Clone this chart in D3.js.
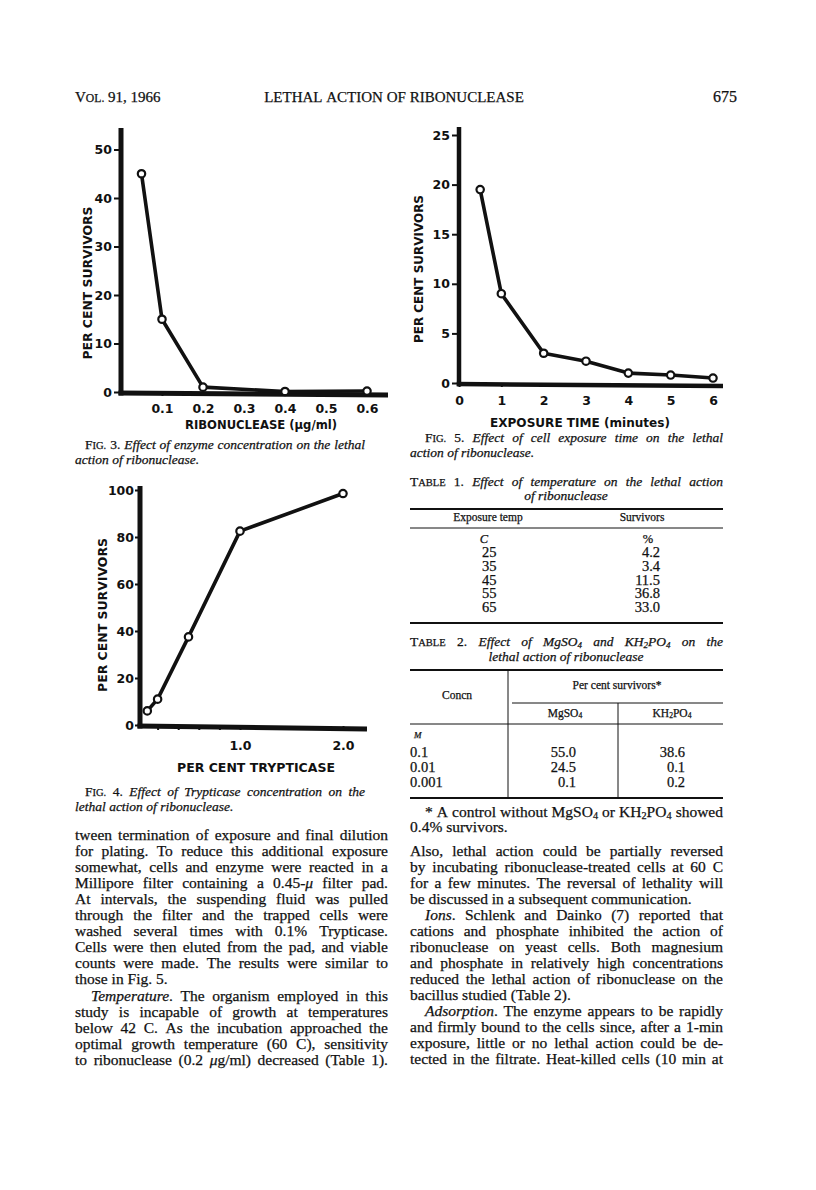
<!DOCTYPE html>
<html><head><meta charset="utf-8">
<script src="https://cdn.jsdelivr.net/npm/d3@7"></script>
<style>body{margin:0;background:#fff} svg{display:block}</style>
</head><body>
<svg id="page" width="816" height="1190"></svg>
<script>
// ---------------- DATA ----------------
const fig3Conc = [0.05, 0.1, 0.2, 0.4, 0.6];
const fig3Surv = [45, 15, 1, 0.1, 0.2];
const fig3YTicks = [0, 10, 20, 30, 40, 50];
const fig3XTicks = [0.1, 0.2, 0.3, 0.4, 0.5, 0.6];
const fig3XLabels = ["0.1", "0.2", "0.3", "0.4", "0.5", "0.6"];

const fig4Tryp = [0.1, 0.2, 0.5, 1.0, 2.0];
const fig4Surv = [6, 11, 37.5, 82.5, 98.5];
const fig4YTicks = [0, 20, 40, 60, 80, 100];
const fig4XTicks = [0.2, 0.4, 0.6, 0.8, 1.0, 2.0];
const fig4XLabels = ["", "", "", "", "1.0", "2.0"];

const fig5Time = [0.5, 1, 2, 3, 4, 5, 6];
const fig5Surv = [19.5, 9, 3, 2.2, 1, 0.8, 0.5];
const fig5YTicks = [0, 5, 10, 15, 20, 25];
const fig5XTicks = [0, 1, 2, 3, 4, 5, 6];
const fig5XLabels = ["0", "1", "2", "3", "4", "5", "6"];

const table1Temp = ["25", "35", "45", "55", "65"];
const table1Surv = ["4.2", "3.4", "11.5", "36.8", "33.0"];
const table2Conc = ["0.1", "0.01", "0.001"];
const table2Mg = ["55.0", "24.5", "0.1"];
const table2KH = ["38.6", "0.1", "0.2"];

// ---------------- LAYOUT ----------------
const svg = d3.select("#page");
const SERIF = "'Liberation Serif','Times New Roman',serif";
const SANS = "'DejaVu Sans','Liberation Sans',sans-serif";
const INK = "#111";

function plot(c) {
  const g = svg.append("g");
  const x = d3.scaleLinear().domain(c.xDomain).range(c.xRange);
  const y = d3.scaleLinear().domain(c.yDomain).range(c.yRange);
  const yAx = g.append("g").attr("transform", `translate(${c.axisX},0)`)
    .call(d3.axisLeft(y).tickValues(c.yTicks).tickSize(c.yTick).tickPadding(c.yPad)
      .tickSizeOuter(0).tickFormat(d3.format("d")));
  const xAx = g.append("g").attr("transform", `translate(0,${c.baseY})`)
    .call(d3.axisBottom(x).tickValues(c.xTicks).tickSize(c.xTick).tickSizeOuter(0)
      .tickFormat((d, i) => c.xLabels[i]));
  [yAx, xAx].forEach(a => {
    a.select(".domain").remove();
    a.selectAll("line").attr("stroke", INK).attr("stroke-width", 2);
    a.selectAll("text").attr("font-family", SANS).attr("font-weight", "bold")
      .attr("font-size", c.tickFont).attr("fill", INK);
  });
  xAx.selectAll("text").attr("y", c.xLabY).attr("dy", null);
  g.append("line").attr("x1", c.axisX).attr("x2", c.axisX)
    .attr("y1", c.baseY + c.axisW / 2).attr("y2", c.axisTop)
    .attr("stroke", INK).attr("stroke-width", c.axisW);
  g.append("line").attr("x1", c.axisX - c.axisW / 2).attr("x2", c.baseRight)
    .attr("y1", c.baseY).attr("y2", c.baseYR)
    .attr("stroke", INK).attr("stroke-width", c.axisW);
  const pts = c.xs.map((v, i) => [v, c.ys[i]]);
  g.append("path").datum(pts)
    .attr("d", d3.line().x(d => x(d[0])).y(d => y(d[1])))
    .attr("fill", "none").attr("stroke", INK).attr("stroke-width", 3.6)
    .attr("stroke-linejoin", "round");
  g.selectAll("circle.pt").data(pts).join("circle").attr("class", "pt")
    .attr("cx", d => x(d[0])).attr("cy", d => y(d[1])).attr("r", 3.7)
    .attr("fill", "#fff").attr("stroke", INK).attr("stroke-width", 2.2);
  g.append("text").attr("transform", `translate(${c.yTitleX},${c.yTitleY}) rotate(-90)`)
    .attr("text-anchor", "middle").attr("dy", "0.36em")
    .attr("font-family", SANS).attr("font-weight", "bold").attr("font-size", 12.5)
    .attr("fill", INK).attr("textLength", c.yTitleLen).attr("lengthAdjust", "spacingAndGlyphs")
    .text(c.yTitle);
  g.append("text").attr("x", c.xTitleX).attr("y", c.xTitleY).attr("text-anchor", "middle")
    .attr("font-family", SANS).attr("font-weight", "bold").attr("font-size", 12.5)
    .attr("fill", INK).attr("textLength", c.xTitleLen).attr("lengthAdjust", "spacingAndGlyphs")
    .text(c.xTitle);
}

plot({ xs: fig3Conc, ys: fig3Surv, xDomain: [0, 0.6], xRange: [121, 367],
  yDomain: [0, 50], yRange: [392, 149.5], yTicks: fig3YTicks, xTicks: fig3XTicks, xLabels: fig3XLabels,
  axisX: 121, axisTop: 128, axisW: 5, baseY: 393, baseYR: 395, baseRight: 388,
  yTick: 7, yPad: 2, xTick: 3, xLabY: 20, tickFont: 12.5,
  yTitle: "PER CENT SURVIVORS", yTitleX: 87, yTitleY: 283, yTitleLen: 153,
  xTitle: "RIBONUCLEASE (μg/ml)", xTitleX: 261, xTitleY: 429, xTitleLen: 152 });

plot({ xs: fig5Time, ys: fig5Surv, xDomain: [0, 6], xRange: [459, 713],
  yDomain: [0, 25], yRange: [383, 135], yTicks: fig5YTicks, xTicks: fig5XTicks, xLabels: fig5XLabels,
  axisX: 459, axisTop: 127, axisW: 4.5, baseY: 384, baseYR: 386, baseRight: 723,
  yTick: 7, yPad: 2, xTick: 3, xLabY: 21, tickFont: 12.5,
  yTitle: "PER CENT SURVIVORS", yTitleX: 418, yTitleY: 269, yTitleLen: 148,
  xTitle: "EXPOSURE  TIME (minutes)", xTitleX: 580, xTitleY: 427, xTitleLen: 180 });

plot({ xs: fig4Tryp, ys: fig4Surv, xDomain: [0, 2], xRange: [137, 343],
  yDomain: [0, 100], yRange: [725, 490], yTicks: fig4YTicks, xTicks: fig4XTicks, xLabels: fig4XLabels,
  axisX: 140, axisTop: 486, axisW: 5, baseY: 726, baseYR: 729, baseRight: 367,
  yTick: 5, yPad: 1, xTick: 4, xLabY: 24, tickFont: 12.5,
  yTitle: "PER CENT SURVIVORS", yTitleX: 102, yTitleY: 615, yTitleLen: 154,
  xTitle: "PER CENT TRYPTICASE", xTitleX: 256, xTitleY: 772, xTitleLen: 158 });

// ---------------- TEXT ----------------
// markup: |..| italic, ^..^ small caps, ~..~ subscript
function parse(str) {
  const words = []; let cur = []; let it = false, sc = false, sub = false; let buf = "";
  const flush = () => { if (buf) { cur.push({ t: buf, it, sc, sub }); buf = ""; } };
  for (const ch of str) {
    if (ch === "|") { flush(); it = !it; }
    else if (ch === "^") { flush(); sc = !sc; }
    else if (ch === "~") { flush(); sub = !sub; }
    else if (ch === " ") { flush(); if (cur.length) { words.push(cur); cur = []; } }
    else buf += ch;
  }
  flush(); if (cur.length) words.push(cur);
  return words;
}
function line(str, o) {
  const t = svg.append("text").attr("y", o.y).attr("font-family", o.fam || SERIF)
    .attr("font-size", o.size).attr("fill", INK)
    .attr("stroke", INK).attr("stroke-width", 0.25);
  const words = parse(str);
  const widths = words.map(w => {
    let total = 0;
    w.forEach(p => {
      const ts = t.append("tspan").text(p.t);
      if (p.it) ts.attr("font-style", "italic");
      if (p.sc) ts.attr("font-size", o.size * 0.78);
      if (p.sub) ts.attr("font-size", o.size * 0.66).attr("baseline-shift", -o.size * 0.12);
      p.node = ts;
      total += ts.node().getComputedTextLength();
    });
    return total;
  });
  const sum = d3.sum(widths), sp = o.size * 0.25;
  const natural = sum + sp * (words.length - 1);
  let gap = sp, start = o.x;
  if (o.align === "j" && words.length > 1) gap = Math.max(2, (o.w - sum) / (words.length - 1));
  else if (o.align === "c") start = o.x - natural / 2;
  else if (o.align === "r") start = o.x - natural;
  let cx = start;
  words.forEach((w, i) => { w[0].node.attr("x", cx); cx += widths[i] + gap; });
}
function rule(x1, x2, y1, y2, w) {
  svg.append("line").attr("x1", x1).attr("x2", x2).attr("y1", y1).attr("y2", y2)
    .attr("stroke", INK).attr("stroke-width", w);
}

// running head
line("V^OL.^ 91, 1966", { x: 75, y: 102, size: 15, align: "l" });
line("LETHAL ACTION OF RIBONUCLEASE", { x: 394, y: 102, size: 15, align: "c" });
line("675", { x: 737, y: 102, size: 16, align: "r" });

// captions
line("F^IG.^ 3. |Effect of enzyme concentration on the lethal|", { x: 85, y: 449, w: 280, size: 13.5, align: "j" });
line("|action of ribonuclease.|", { x: 75, y: 464, size: 13.5, align: "l" });
line("F^IG.^ 4. |Effect of Trypticase concentration on the|", { x: 85, y: 796, w: 280, size: 13.5, align: "j" });
line("|lethal action of ribonuclease.|", { x: 75, y: 811, size: 13.5, align: "l" });
line("F^IG.^ 5. |Effect of cell exposure time on the lethal|", { x: 425, y: 442, w: 298, size: 13.5, align: "j" });
line("|action of ribonuclease.|", { x: 410, y: 457, size: 13.5, align: "l" });

// Table 1
line("T^ABLE^ 1. |Effect of temperature on the lethal action|", { x: 410, y: 486, w: 313, size: 13.5, align: "j" });
line("|of ribonuclease|", { x: 566, y: 500, size: 13.5, align: "c" });
rule(410, 723, 509, 509, 1.8);
line("Exposure temp", { x: 488, y: 521, size: 11.5, align: "c" });
line("Survivors", { x: 642, y: 521, size: 11.5, align: "c" });
rule(410, 723, 528, 528, 1);
line("|C|", { x: 484, y: 543, size: 12.5, align: "c" });
line("%", { x: 648, y: 543, size: 12.5, align: "c" });
table1Temp.forEach((d, i) => {
  const yy = 557 + i * 13.8;
  line(d, { x: 482, y: yy, size: 14.5, align: "l" });
  line(table1Surv[i], { x: 660, y: yy, size: 14.5, align: "r" });
});
rule(410, 723, 623, 623, 2);

// Table 2
line("T^ABLE^ 2. |Effect of MgSO~4~ and KH~2~PO~4~ on the|", { x: 410, y: 646, w: 313, size: 13.5, align: "j" });
line("|lethal action of ribonuclease|", { x: 566, y: 661, size: 13.5, align: "c" });
rule(410, 723, 670, 670, 1.8);
rule(508, 508, 670, 797, 1);
line("Concn", { x: 457, y: 699, size: 11.5, align: "c" });
line("Per cent survivors*", { x: 617, y: 689, size: 11.5, align: "c" });
rule(512, 723, 703, 703, 1);
rule(618, 618, 703, 797, 1);
line("MgSO~4~", { x: 565, y: 717, size: 11.5, align: "c" });
line("KH~2~PO~4~", { x: 672, y: 717, size: 11.5, align: "c" });
rule(410, 723, 724, 724, 1);
line("|M|", { x: 414, y: 738, size: 9, align: "l" });
table2Conc.forEach((d, i) => {
  const yy = 757 + i * 15;
  line(d, { x: 410, y: yy, size: 14.5, align: "l" });
  line(table2Mg[i], { x: 576, y: yy, size: 14.5, align: "r" });
  line(table2KH[i], { x: 685, y: yy, size: 14.5, align: "r" });
});
rule(410, 723, 798, 798, 2);
line("* A control without MgSO~4~ or KH~2~PO~4~ showed", { x: 425, y: 817, w: 298, size: 15.5, align: "j" });
line("0.4% survivors.", { x: 410, y: 832, size: 15.5, align: "l" });

// body text
const leftLines = [
  ["tween termination of exposure and final dilution", "j"],
  ["for plating. To reduce this additional exposure", "j"],
  ["somewhat, cells and enzyme were reacted in a", "j"],
  ["Millipore filter containing a 0.45-|μ| filter pad.", "j"],
  ["At intervals, the suspending fluid was pulled", "j"],
  ["through the filter and the trapped cells were", "j"],
  ["washed several times with 0.1% Trypticase.", "j"],
  ["Cells were then eluted from the pad, and viable", "j"],
  ["counts were made. The results were similar to", "j"],
  ["those in Fig. 5.", "l"],
  ["|Temperature|. The organism employed in this", "j", 16],
  ["study is incapable of growth at temperatures", "j"],
  ["below 42 C. As the incubation approached the", "j"],
  ["optimal growth temperature (60 C), sensitivity", "j"],
  ["to ribonuclease (0.2 |μ|g/ml) decreased (Table 1).", "j"]
];
const rightLines = [
  ["Also, lethal action could be partially reversed", "j"],
  ["by incubating ribonuclease-treated cells at 60 C", "j"],
  ["for a few minutes. The reversal of lethality will", "j"],
  ["be discussed in a subsequent communication.", "l"],
  ["|Ions|. Schlenk and Dainko (7) reported that", "j", 15],
  ["cations and phosphate inhibited the action of", "j"],
  ["ribonuclease on yeast cells. Both magnesium", "j"],
  ["and phosphate in relatively high concentrations", "j"],
  ["reduced the lethal action of ribonuclease on the", "j"],
  ["bacillus studied (Table 2).", "l"],
  ["|Adsorption|. The enzyme appears to be rapidly", "j", 15],
  ["and firmly bound to the cells since, after a 1-min", "j"],
  ["exposure, little or no lethal action could be de-", "j"],
  ["tected in the filtrate. Heat-killed cells (10 min at", "j"]
];
leftLines.forEach((l, i) => {
  const ind = l[2] || 0;
  line(l[0], { x: 75 + ind, y: 840 + i * 16.05, w: 313 - ind, size: 15.5, align: l[1] });
});
rightLines.forEach((l, i) => {
  const ind = l[2] || 0;
  line(l[0], { x: 410 + ind, y: 856 + i * 16.0, w: 313 - ind, size: 15.5, align: l[1] });
});
</script>
</body></html>
